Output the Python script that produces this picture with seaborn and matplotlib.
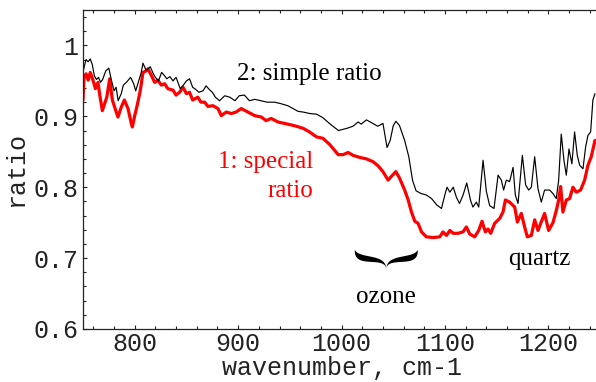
import numpy as np
import pandas as pd
import matplotlib
matplotlib.use("Agg")
import matplotlib.pyplot as plt
from matplotlib.ticker import MultipleLocator, FixedLocator, FixedFormatter
import seaborn as sns

# Curve 2: simple ratio
simple_wn = [750, 752, 753, 755, 757, 759, 761, 763, 765, 767, 769, 772, 775, 777, 780,
             782, 784, 787, 789, 792, 796, 799, 801, 803, 806, 808, 811, 813, 815, 818,
             820, 823, 826, 829, 831, 834, 837, 840, 844, 847, 850, 853, 856, 859, 862,
             866, 869, 872, 875, 878, 882, 887, 892, 897, 901, 906, 911, 916, 922, 928,
             935, 941, 948, 953, 958, 963, 969, 976, 982, 989, 997, 1005, 1011, 1016, 1019,
             1024, 1029, 1035, 1040, 1044, 1047, 1050, 1052.5, 1056, 1061, 1065, 1068.6,
             1072, 1077, 1082, 1087, 1092, 1096.6, 1100, 1102, 1104.7, 1108, 1111, 1114,
             1117.5, 1121, 1124.8, 1127, 1130.3, 1132.6, 1136.8, 1140, 1143.2, 1147.4,
             1151.3, 1154.5, 1156.7, 1159.3, 1162.5, 1165.8, 1168, 1170.6, 1174.8, 1178,
             1180.9, 1183.5, 1186.7, 1189.9, 1193.1, 1196.3, 1201.2, 1204.4, 1207.6, 1209.9,
             1212.4, 1215, 1217.3, 1219.9, 1222.7, 1225.3, 1227.9, 1230.2, 1233.4, 1236,
             1238.2, 1240.8, 1243, 1245]
simple_ratio = [0.962, 0.975, 0.980, 0.977, 0.981, 0.973, 0.957, 0.952, 0.955, 0.948, 0.952,
                0.964, 0.968, 0.954, 0.936, 0.941, 0.922, 0.932, 0.944, 0.948, 0.955, 0.946,
                0.936, 0.946, 0.960, 0.975, 0.965, 0.967, 0.970, 0.960, 0.955, 0.950, 0.962,
                0.957, 0.953, 0.956, 0.950, 0.955, 0.939, 0.944, 0.950, 0.953, 0.941, 0.938,
                0.934, 0.936, 0.943, 0.938, 0.934, 0.927, 0.922, 0.929, 0.927, 0.922, 0.929,
                0.930, 0.922, 0.924, 0.922, 0.920, 0.920, 0.918, 0.915, 0.911, 0.907, 0.906,
                0.904, 0.903, 0.898, 0.889, 0.880, 0.883, 0.886, 0.892, 0.889, 0.895, 0.891,
                0.886, 0.890, 0.856, 0.866, 0.887, 0.893, 0.887, 0.866, 0.843, 0.810, 0.795,
                0.791, 0.789, 0.784, 0.775, 0.770, 0.790, 0.800, 0.793, 0.800, 0.786, 0.777,
                0.789, 0.806, 0.781, 0.772, 0.779, 0.772, 0.838, 0.794, 0.774, 0.770, 0.817,
                0.810, 0.796, 0.810, 0.808, 0.828, 0.789, 0.777, 0.845, 0.803, 0.796, 0.800,
                0.843, 0.798, 0.779, 0.796, 0.796, 0.791, 0.784, 0.810, 0.875, 0.838, 0.817,
                0.854, 0.833, 0.878, 0.845, 0.831, 0.826, 0.857, 0.873, 0.878, 0.923, 0.932]

# Curve 1: special ratio
special_wn = [750, 751, 753, 755, 757, 759.7, 762, 764.5, 766, 768.7, 771, 773, 775.8, 778.4,
              780.6, 783.8, 787, 790, 793.5, 796.7, 797.7, 800, 802, 804.8, 806.4, 808, 811,
              812.8, 816, 819.3, 822.5, 825.7, 829, 832, 837, 840, 843.4, 846.7, 850, 853, 856,
              861, 864, 867.6, 870.8, 875.7, 880.5, 883.7, 888.5, 893.4, 898, 903, 909.5, 916,
              922.4, 927, 932, 938.6, 945, 951, 956.4, 963, 969, 975.8, 982, 988.7, 996.7,
              1001.5, 1006.4, 1011, 1017.7, 1024, 1030.5, 1035.4, 1040, 1045, 1048, 1052.5,
              1056, 1061, 1064.4, 1067.6, 1070.8, 1074, 1077.3, 1082, 1088.5, 1095, 1098,
              1101.4, 1104.7, 1108, 1112.6, 1117.4, 1120.7, 1123.9, 1128.7, 1132.6, 1135.8,
              1139, 1141.6, 1144.2, 1148, 1152.9, 1156.1, 1158.4, 1162.5, 1167.4, 1170, 1173.8,
              1177, 1179.6, 1183.5, 1186.7, 1189.9, 1192.5, 1196.3, 1200.2, 1204.4, 1207.6,
              1209.9, 1211.8, 1214, 1217.3, 1220.5, 1223.7, 1226.9, 1231.1, 1235, 1238.2,
              1241.4, 1245]
special_ratio = [0.923, 0.955, 0.960, 0.951, 0.962, 0.951, 0.939, 0.948, 0.932, 0.908, 0.918,
                 0.927, 0.953, 0.923, 0.913, 0.899, 0.913, 0.923, 0.911, 0.890, 0.885, 0.901,
                 0.913, 0.932, 0.946, 0.962, 0.964, 0.967, 0.958, 0.948, 0.951, 0.944, 0.946,
                 0.939, 0.937, 0.930, 0.934, 0.941, 0.932, 0.934, 0.923, 0.927, 0.920, 0.920,
                 0.914, 0.915, 0.911, 0.901, 0.906, 0.904, 0.906, 0.911, 0.906, 0.901, 0.899,
                 0.894, 0.897, 0.892, 0.890, 0.888, 0.886, 0.883, 0.878, 0.871, 0.869, 0.860,
                 0.846, 0.846, 0.849, 0.845, 0.842, 0.840, 0.836, 0.830, 0.822, 0.810, 0.815,
                 0.822, 0.813, 0.796, 0.782, 0.765, 0.752, 0.749, 0.737, 0.730, 0.729, 0.730,
                 0.737, 0.732, 0.739, 0.735, 0.735, 0.737, 0.744, 0.734, 0.730, 0.739, 0.752,
                 0.737, 0.741, 0.735, 0.749, 0.756, 0.765, 0.782, 0.779, 0.772, 0.751, 0.763,
                 0.744, 0.730, 0.732, 0.754, 0.739, 0.749, 0.763, 0.739, 0.750, 0.767, 0.782,
                 0.801, 0.765, 0.782, 0.784, 0.800, 0.793, 0.796, 0.810, 0.831, 0.843, 0.866]

x_ticks = [800, 900, 1000, 1100, 1200]
x_tick_labels = ["800", "900", "1000", "1100", "1200"]
y_ticks = [0.6, 0.7, 0.8, 0.9, 1.0]
y_tick_labels = ["0.6", "0.7", "0.8", "0.9", "1"]

ozone_band = (1012.8, 1073.7)

simple_df = pd.DataFrame({"wavenumber": simple_wn, "ratio": simple_ratio})
special_df = pd.DataFrame({"wavenumber": special_wn, "ratio": special_ratio})

sns.set_theme(style="ticks")
plt.rcParams["font.family"] = ["Liberation Mono", "DejaVu Sans Mono"]

fig = plt.figure(figsize=(5.96, 3.82), dpi=100)
fig.patch.set_facecolor("white")
ax = fig.add_axes([83 / 596, 1 - 329 / 382, 513 / 596, 319 / 382])
ax.set_facecolor("white")

sns.lineplot(data=special_df, x="wavenumber", y="ratio", ax=ax, color="#ff0000",
             linewidth=2.3, estimator=None, sort=False)
sns.lineplot(data=simple_df, x="wavenumber", y="ratio", ax=ax, color="black",
             linewidth=0.85, estimator=None, sort=False)

ax.set_xlim(750, 1246)
ax.set_ylim(0.6, 1.05)

ax.xaxis.set_major_locator(FixedLocator(x_ticks))
ax.xaxis.set_major_formatter(FixedFormatter(x_tick_labels))
ax.yaxis.set_major_locator(FixedLocator(y_ticks))
ax.yaxis.set_major_formatter(FixedFormatter(y_tick_labels))
ax.xaxis.set_minor_locator(MultipleLocator(20))
ax.yaxis.set_minor_locator(MultipleLocator(0.02))

ax.tick_params(which="both", direction="in", top=True, right=False, width=0.8,
               colors="#222222", labelsize=18)
ax.tick_params(axis="x", which="both", pad=2.5)
ax.tick_params(axis="y", which="both", pad=3.5)
ax.tick_params(which="major", length=3.0)
ax.tick_params(which="minor", length=1.9)
for lab in ax.get_xticklabels() + ax.get_yticklabels():
    lab.set_color("#222222")

for side in ("left", "bottom", "top"):
    ax.spines[side].set_linewidth(0.9)
    ax.spines[side].set_color("#222222")
ax.spines["right"].set_visible(False)

ax.set_xlabel("wavenumber, cm-1", fontsize=18, color="#222222")
ax.xaxis.label.set_va("baseline")
ax.xaxis.set_label_coords(0.504, -46 / 319)
ax.set_ylabel("ratio", fontsize=18, labelpad=4, color="#222222")

serif = ["Liberation Serif", "DejaVu Serif"]
ax.text(898.8, 0.9507, "2: simple ratio", family=serif, fontsize=18, color="black",
        ha="left", va="baseline")
ax.text(972.2, 0.8268, "1: special", family=serif, fontsize=18, color="#ff0000",
        ha="right", va="baseline")
ax.text(972.2, 0.786, "ratio", family=serif, fontsize=18, color="#ff0000",
        ha="right", va="baseline")
ax.text(1191, 0.690, "quartz", family=serif, fontsize=18, color="black",
        ha="center", va="baseline")
ax.text(0.5 * sum(ozone_band), 0.6366, "ozone", family=serif, fontsize=18, color="black",
        ha="center", va="baseline")


def draw_brace(ax, x_left, x_right, y_top, y_tip, thick):
    """Downward-pointing curly brace spanning x_left..x_right."""
    xc = 0.5 * (x_left + x_right)
    hw = xc - x_left
    t = np.linspace(0, 1, 120)
    p = np.array([[0, 0], [0.04, 0.75], [0.97, 0.2], [1, 1]], dtype=float)
    b = (((1 - t) ** 3)[:, None] * p[0] + (3 * (1 - t) ** 2 * t)[:, None] * p[1]
         + (3 * (1 - t) * t ** 2)[:, None] * p[2] + (t ** 3)[:, None] * p[3])
    u, v = b[:, 0], b[:, 1]
    w = thick * np.sin(np.pi * t ** 0.55) ** 0.8
    xs = x_left + u * hw
    ys = y_top - v * (y_top - y_tip)
    up, lo = ys + w / 2, ys - w / 2
    # left half, then mirrored right half
    px = np.concatenate([xs, xs[::-1]])
    py = np.concatenate([up, lo[::-1]])
    ax.fill(px, py, color="black", lw=0, clip_on=False)
    ax.fill(2 * xc - px, py, color="black", lw=0, clip_on=False)


draw_brace(ax, ozone_band[0], ozone_band[1], 0.7108, 0.6850, 0.0085)

fig.savefig("out.png", dpi=100, facecolor="white")
